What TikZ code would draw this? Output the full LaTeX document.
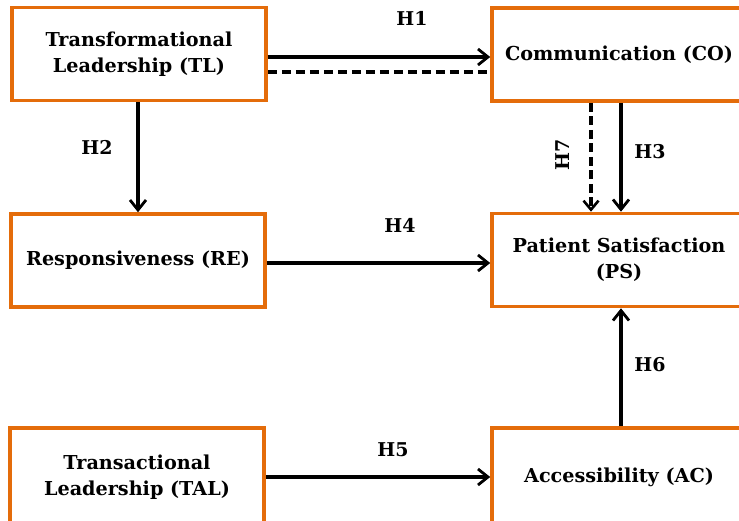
\documentclass[tikz,border=0pt]{standalone}
\usepackage{fontspec}
\setmainfont{DejaVu Serif}
\usetikzlibrary{arrows.meta}
\definecolor{boxorange}{HTML}{E46C0A}
\tikzset{
  box/.style={draw=boxorange, line width=3.6pt, fill=white, minimum width=254pt, minimum height=93pt, align=center, inner sep=0pt, font=\bfseries\fontsize{19.2}{26}\selectfont},
  arr/.style={line width=3.2pt, -{Straight Barb[length=10pt,width=16pt,line width=2.8pt]}},
  dasharr/.style={line width=3.2pt, dash pattern=on 9pt off 4.5pt, -{Straight Barb[length=9pt,width=15pt,line width=2.6pt]}},
  dashline/.style={line width=3.2pt, dash pattern=on 9pt off 5pt},
  lab/.style={font=\bfseries\fontsize{19}{20}\selectfont, inner sep=0pt}
}
\begin{document}
\begin{tikzpicture}[x=1pt,y=-1pt]
\useasboundingbox (0,0) rectangle (739,521);
\clip (0,0) rectangle (739,521);
\node[box] (TL) at (139,54) {Transformational\\Leadership (TL)};
\node[box] (CO) at (619,54.5) {Communication (CO)};
\node[box] (RE) at (138,260.5) {Responsiveness (RE)};
\node[box] (PS) at (619,260) {Patient Satisfaction\\(PS)};
\node[box, minimum height=98pt] (TAL) at (137,477) {Transactional\\Leadership (TAL)};
\node[box, minimum height=98pt] (AC) at (619,477) {Accessibility (AC)};

\draw[arr] ([yshift=-3pt]TL.east) -- ([yshift=-2.5pt]CO.west);
\draw[dashline] ([yshift=-18pt]TL.east) -- ([yshift=-17.5pt]CO.west);
\draw[arr] ([xshift=-1pt]TL.south) -- (RE.north);
\draw[dasharr] ([xshift=-28pt]CO.south) -- ([xshift=-28pt]PS.north);
\draw[arr] ([xshift=2pt]CO.south) -- ([xshift=2pt]PS.north);
\draw[arr] ([yshift=-2.5pt]RE.east) -- ([yshift=-3pt]PS.west);
\draw[arr] (TAL.east) -- (AC.west);
\draw[arr] ([xshift=2pt]AC.north) -- ([xshift=2pt]PS.south);

\node[lab] (h1) at (412,18) {H1};
\node[lab] (h2) at (97,147) {H2};
\node[lab, rotate=90] (h7) at (563,155) {H7};
\node[lab] (h3) at (650,152) {H3};
\node[lab] (h4) at (400,225) {H4};
\node[lab] (h5) at (393,450) {H5};
\node[lab] (h6) at (650,365) {H6};
\end{tikzpicture}
\end{document}
